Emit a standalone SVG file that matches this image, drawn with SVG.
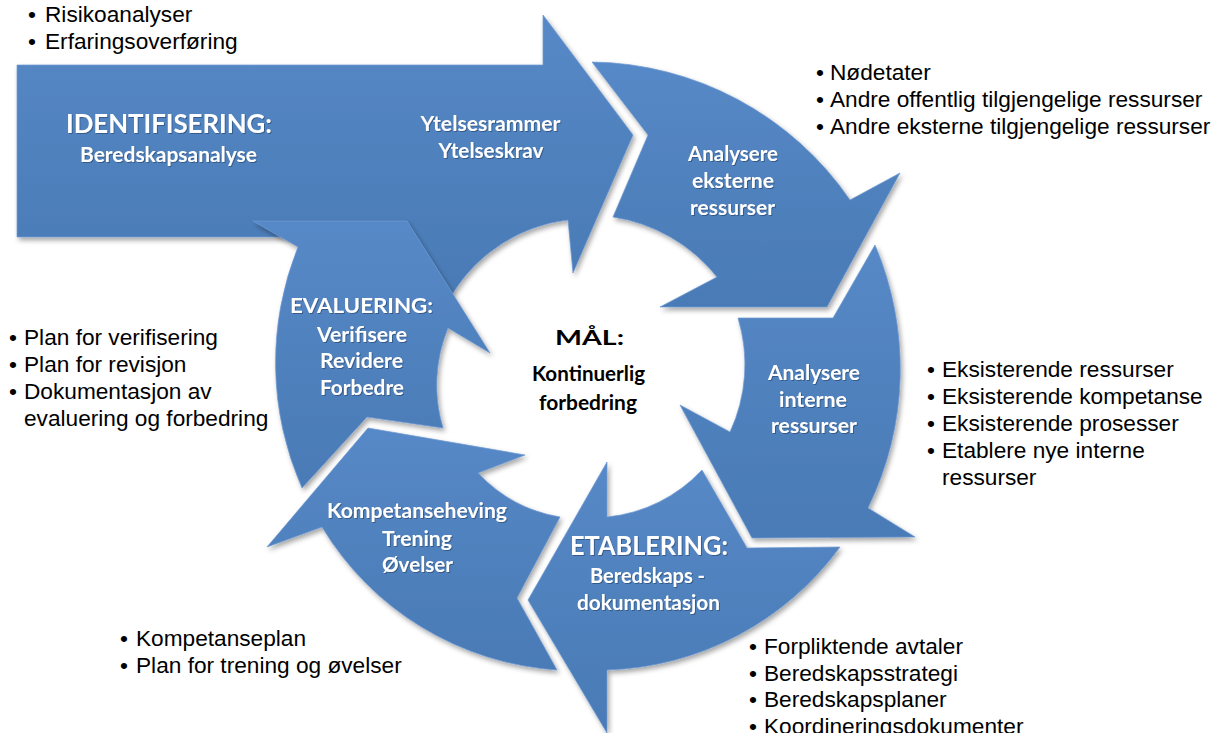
<svg xmlns="http://www.w3.org/2000/svg" width="1213" height="733" viewBox="0 0 1213 733">
<defs>
<linearGradient id="g" x1="0" y1="0" x2="0" y2="1">
<stop offset="0" stop-color="#5789c8"/>
<stop offset="0.5" stop-color="#4f81bd"/>
<stop offset="1" stop-color="#4a7bb6"/>
</linearGradient>
<filter id="sh" x="-10%" y="-10%" width="120%" height="125%">
<feDropShadow dx="2" dy="3" stdDeviation="2.5" flood-color="#000" flood-opacity="0.35"/>
</filter>
<filter id="ts" x="-5%" y="-20%" width="110%" height="150%">
<feDropShadow dx="1" dy="1" stdDeviation="0.7" flood-color="#1d3a60" flood-opacity="0.55"/>
</filter>
<style>
.arr{fill:url(#g);stroke:#6f9ad3;stroke-width:1;stroke-opacity:0.7;filter:url(#sh)}
.w{font-family:Lato,"Open Sans",sans-serif;font-weight:bold;fill:#fff;text-anchor:middle;font-size:20px;filter:url(#ts)}
.wt{font-size:26px}
.c{font-family:Lato,"Open Sans",sans-serif;font-weight:bold;fill:#000;text-anchor:middle;font-size:20px}
.b{font-family:"Liberation Sans",Arial,sans-serif;font-size:22.67px;fill:#000}
</style>
</defs>

<g id="identifisering">
<path class="arr" d="M17,65 L543,65 L543,15 L633,135 L573,273 L568,220 A158,158 0 0 0 453,293 L400,290 L330,237 L17,237 Z"/>
<text class="w wt" x="169" y="133" textLength="206" lengthAdjust="spacingAndGlyphs">IDENTIFISERING:</text>
<text class="w" x="168.5" y="162" textLength="177" lengthAdjust="spacingAndGlyphs">Beredskapsanalyse</text>
<text class="w" x="490.5" y="131" textLength="140" lengthAdjust="spacingAndGlyphs">Ytelsesrammer</text>
<text class="w" x="491" y="158" textLength="105" lengthAdjust="spacingAndGlyphs">Ytelseskrav</text>
</g>

<g id="analysere-eksterne">
<path class="arr" d="M592,62 A318,318 0 0 1 850,200 L900,173 L827,307 L660,307 L717,277 A165,165 0 0 0 613,217 L648,135 Z"/>
<text class="w" x="733" y="161" textLength="90" lengthAdjust="spacingAndGlyphs">Analysere</text>
<text class="w" x="733" y="188" textLength="82" lengthAdjust="spacingAndGlyphs">eksterne</text>
<text class="w" x="732.5" y="215" textLength="85" lengthAdjust="spacingAndGlyphs">ressurser</text>
</g>

<g id="analysere-interne">
<path class="arr" d="M875,245 A316,316 0 0 1 868,508 L915,537 L752,538 L680,405 L730,432 A160,160 0 0 0 738,318 L833,318 Z"/>
<text class="w" x="814" y="380" textLength="92" lengthAdjust="spacingAndGlyphs">Analysere</text>
<text class="w" x="813" y="407" textLength="68" lengthAdjust="spacingAndGlyphs">interne</text>
<text class="w" x="814" y="433" textLength="86" lengthAdjust="spacingAndGlyphs">ressurser</text>
</g>

<g id="etablering">
<path class="arr" d="M840,547 A300,300 0 0 1 607,670 L607,733 L528,600 L607,462 L607,517 A150,150 0 0 0 702,470 L747,548 Z"/>
<text class="w wt" x="649" y="555" textLength="158" lengthAdjust="spacingAndGlyphs">ETABLERING:</text>
<text class="w" x="647.5" y="583" textLength="115" lengthAdjust="spacingAndGlyphs">Beredskaps -</text>
<text class="w" x="648.5" y="610" textLength="143" lengthAdjust="spacingAndGlyphs">dokumentasjon</text>
</g>

<g id="kompetanseheving">
<path class="arr" d="M557,670 A297,297 0 0 1 322,527 L267,547 L368,428 L525,455 L478,473 A145,145 0 0 0 560,517 L517,598 Z"/>
<text class="w" x="417" y="518" textLength="180" lengthAdjust="spacingAndGlyphs">Kompetanseheving</text>
<text class="w" x="417" y="546" textLength="70" lengthAdjust="spacingAndGlyphs">Trening</text>
<text class="w" x="417.5" y="572" textLength="71" lengthAdjust="spacingAndGlyphs">Øvelser</text>
</g>

<g id="evaluering">
<path class="arr" d="M302,488 A310,310 0 0 1 298,247 L253,221 L407,221 L490,353 L448,328 A150,150 0 0 0 443,428 L367,417 Z"/>
<text class="w" x="361.5" y="313" font-size="22" textLength="143" lengthAdjust="spacingAndGlyphs">EVALUERING:</text>
<text class="w" x="362" y="342" textLength="90" lengthAdjust="spacingAndGlyphs">Verifisere</text>
<text class="w" x="361.5" y="368" textLength="83" lengthAdjust="spacingAndGlyphs">Revidere</text>
<text class="w" x="362" y="395" textLength="84" lengthAdjust="spacingAndGlyphs">Forbedre</text>
</g>

<g id="maal">
<text class="c" x="589.5" y="345" font-size="26" textLength="69" lengthAdjust="spacingAndGlyphs">MÅL:</text>
<text class="c" x="588.5" y="381" textLength="113" lengthAdjust="spacingAndGlyphs">Kontinuerlig</text>
<text class="c" x="588" y="410" textLength="98" lengthAdjust="spacingAndGlyphs">forbedring</text>
</g>

<g id="connectors"></g>

<g id="list-identifisering" class="b">
<text x="28" y="22">•</text><text x="45" y="22">Risikoanalyser</text>
<text x="28" y="49">•</text><text x="45" y="49">Erfaringsoverføring</text>
</g>

<g id="list-eksterne" class="b">
<text x="816" y="80">•</text><text x="830" y="80">Nødetater</text>
<text x="816" y="107">•</text><text x="830" y="107">Andre offentlig tilgjengelige ressurser</text>
<text x="816" y="134">•</text><text x="830" y="134">Andre eksterne tilgjengelige ressurser</text>
</g>

<g id="list-interne" class="b">
<text x="927" y="377">•</text><text x="942" y="377">Eksisterende ressurser</text>
<text x="927" y="404">•</text><text x="942" y="404">Eksisterende kompetanse</text>
<text x="927" y="431">•</text><text x="942" y="431">Eksisterende prosesser</text>
<text x="927" y="458">•</text><text x="942" y="458">Etablere nye interne</text>
<text x="942" y="485">ressurser</text>
</g>

<g id="list-evaluering" class="b">
<text x="9" y="345">•</text><text x="24" y="345">Plan for verifisering</text>
<text x="9" y="372">•</text><text x="24" y="372">Plan for revisjon</text>
<text x="9" y="399">•</text><text x="24" y="399">Dokumentasjon av</text>
<text x="24" y="426">evaluering og forbedring</text>
</g>

<g id="list-kompetanse" class="b">
<text x="120" y="646">•</text><text x="136" y="646">Kompetanseplan</text>
<text x="120" y="673">•</text><text x="136" y="673">Plan for trening og øvelser</text>
</g>

<g id="list-etablering" class="b">
<text x="749" y="654">•</text><text x="764" y="654">Forpliktende avtaler</text>
<text x="749" y="681">•</text><text x="764" y="681">Beredskapsstrategi</text>
<text x="749" y="707">•</text><text x="764" y="707">Beredskapsplaner</text>
<text x="749" y="734">•</text><text x="764" y="734">Koordineringsdokumenter</text>
</g>
</svg>
